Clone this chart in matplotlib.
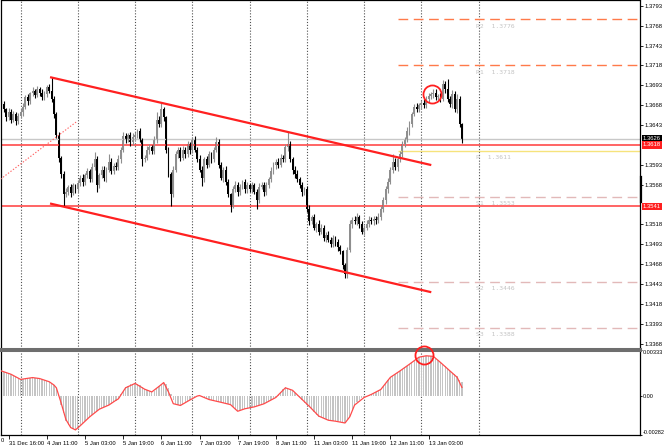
import matplotlib
matplotlib.use('Agg')
import matplotlib.pyplot as plt
from matplotlib.transforms import blended_transform_factory
import numpy as np

plt.rcParams['font.family'] = ['Liberation Sans', 'DejaVu Sans']

# hourly bars, bar 8 = 4 Jan 00:00, last bar = 13 Jan ~17:00
first_open = 1.3672
close = [
    1.3669, 1.3663, 1.3653, 1.3660, 1.3650, 1.3657, 1.3648, 1.3655, 1.3659, 1.3666, 1.3678, 1.3673,
    1.3683, 1.3686, 1.3681, 1.3688, 1.3684, 1.3678, 1.3682, 1.3691, 1.3686, 1.3676, 1.3657, 1.3631,
    1.3602, 1.3581, 1.3556, 1.3559, 1.3565, 1.3558, 1.3567, 1.3562, 1.3570, 1.3577, 1.3571, 1.3580,
    1.3585, 1.3575, 1.3590, 1.3600, 1.3568, 1.3580, 1.3587, 1.3577, 1.3587, 1.3597, 1.3585, 1.3592,
    1.3590, 1.3600, 1.3612, 1.3629, 1.3625, 1.3630, 1.3622, 1.3628, 1.3631, 1.3635, 1.3625, 1.3600,
    1.3602, 1.3612, 1.3615, 1.3610, 1.3625, 1.3650, 1.3644, 1.3663, 1.3653, 1.3612, 1.3581, 1.3556,
    1.3587, 1.3606, 1.3612, 1.3602, 1.3612, 1.3606, 1.3619, 1.3612, 1.3625, 1.3612, 1.3600, 1.3587,
    1.3577, 1.3600, 1.3593, 1.3606, 1.3600, 1.3612, 1.3622, 1.3593, 1.3577, 1.3587, 1.3572, 1.3556,
    1.3543, 1.3562, 1.3568, 1.3559, 1.3565, 1.3571, 1.3562, 1.3567, 1.3562, 1.3567, 1.3559, 1.3549,
    1.3565, 1.3568, 1.3559, 1.3567, 1.3575, 1.3585, 1.3593, 1.3597, 1.3593, 1.3602, 1.3600, 1.3615,
    1.3619, 1.3600, 1.3587, 1.3581, 1.3575, 1.3568, 1.3559, 1.3562, 1.3537, 1.3522, 1.3527, 1.3514,
    1.3518, 1.3509, 1.3514, 1.3501, 1.3505, 1.3499, 1.3493, 1.3501, 1.3496, 1.3489, 1.3484, 1.3467,
    1.3455, 1.3486, 1.3518, 1.3524, 1.3522, 1.3527, 1.3518, 1.3509, 1.3514, 1.3519, 1.3524, 1.3522,
    1.3525, 1.3523, 1.3527, 1.3537, 1.3549, 1.3562, 1.3572, 1.3587, 1.3597, 1.3590, 1.3600, 1.3606,
    1.3619, 1.3625, 1.3635, 1.3644, 1.3657, 1.3666, 1.3663, 1.3668, 1.3671, 1.3668, 1.3676, 1.3679,
    1.3682, 1.3684, 1.3678, 1.3679, 1.3676, 1.3695, 1.3688, 1.3676, 1.3669, 1.3682, 1.3663, 1.3676,
    1.3644, 1.3626,
]
# wicks beyond the body, in pips
wick_up = [
    3, 4, 2, 5, 3, 4, 2, 3, 4, 5, 3, 4, 2, 5, 3, 4, 3, 5, 4, 3, 4, 17, 3, 2,
    3, 2, 4, 5, 3, 4, 3, 2, 4, 3, 5, 3, 4, 3, 5, 9, 4, 3, 5, 4, 3, 9, 4, 3,
    4, 5, 3, 5, 4, 3, 4, 5, 3, 3, 4, 2, 3, 5, 4, 3, 4, 10, 4, 8, 3, 2, 4, 3,
    5, 4, 3, 4, 5, 3, 4, 3, 3, 4, 3, 5, 4, 3, 4, 5, 3, 4, 6, 3, 4, 3, 5, 3,
    2, 4, 5, 3, 4, 3, 4, 5, 3, 4, 3, 4, 5, 3, 4, 4, 3, 5, 4, 3, 4, 5, 3, 4,
    15, 4, 3, 4, 5, 3, 4, 3, 4, 5, 3, 4, 3, 5, 4, 3, 4, 5, 3, 4, 3, 4, 3, 2,
    3, 4, 5, 3, 4, 5, 3, 4, 3, 4, 5, 3, 4, 3, 5, 4, 3, 4, 5, 3, 9, 4, 3, 5,
    4, 3, 5, 4, 3, 4, 5, 3, 4, 5, 3, 4, 3, 5, 4, 3, 4, 5, 4, 13, 3, 5, 4, 6,
    3, 2,
]
wick_dn = [
    4, 3, 5, 3, 4, 3, 5, 4, 3, 4, 3, 5, 4, 3, 4, 3, 5, 4, 3, 4, 3, 4, 5, 4,
    5, 4, 15, 3, 4, 5, 3, 4, 3, 4, 5, 3, 4, 3, 4, 3, 9, 4, 3, 4, 5, 3, 4, 3,
    3, 4, 5, 3, 4, 3, 5, 4, 3, 4, 3, 9, 4, 3, 5, 4, 3, 4, 3, 4, 5, 4, 3, 15,
    4, 3, 5, 4, 3, 4, 3, 5, 4, 3, 4, 3, 11, 5, 4, 3, 5, 4, 3, 4, 3, 5, 4, 3,
    10, 4, 3, 5, 4, 3, 4, 5, 3, 4, 3, 12, 4, 3, 5, 4, 3, 4, 3, 5, 4, 3, 4, 3,
    4, 3, 5, 4, 3, 4, 5, 4, 3, 5, 4, 3, 5, 4, 3, 4, 5, 3, 4, 3, 5, 4, 3, 5,
    4, 5, 3, 4, 3, 5, 4, 3, 4, 3, 4, 3, 5, 4, 3, 4, 3, 5, 4, 3, 4, 3, 5, 4,
    3, 4, 3, 5, 4, 3, 4, 3, 5, 4, 3, 4, 3, 5, 4, 3, 4, 3, 5, 4, 3, 4, 3, 5,
    4, 5,
]

# MACD main (histogram), units of 1e-5
macd_main = [
    180, 176, 170, 163, 157, 148, 140, 131, 121, 124, 128, 131, 133, 134, 133, 130, 127, 124, 118, 112, 105, 95, 78, 50,
    5, -62, -125, -178, -210, -232, -242, -246, -230, -210, -195, -182, -165, -150, -138, -124, -110, -96, -88, -80, -72, -65, -58, -45,
    -32, -18, 12, 40, 63, 75, 85, 90, 92, 88, 78, 66, 52, 42, 35, 30, 38, 56, 72, 86, 96, 90, 55, 18,
    -30, -58, -64, -66, -58, -48, -38, -28, -18, -8, 0, 2, -4, -12, -18, -22, -27, -32, -37, -42, -46, -50, -55, -58,
    -62, -80, -100, -110, -104, -98, -92, -88, -85, -82, -78, -74, -68, -62, -57, -50, -40, -30, -18, -6, 12, 30, 48, 63,
    58, 48, 40, 25, 8, -8, -30, -50, -68, -80, -95, -115, -135, -148, -155, -162, -168, -173, -176, -179, -181, -183, -185, -189,
    -193, -175, -150, -110, -70, -45, -28, -14, -6, 2, 9, 15, 24, 32, 42, 52, 70, 90, 115, 135, 148, 160, 172, 182,
    195, 208, 220, 230, 245, 262, 275, 285, 290, 292, 292, 291, 289, 285, 275, 260, 242, 228, 215, 200, 182, 170, 158, 142,
    120, 100,
]
# signal line vertices (bar, value 1e-5)
signal_bars = [0, 4, 8, 13, 16, 20, 22, 23, 25, 27, 29, 31, 33, 37, 41, 45, 48, 49, 52, 56, 60, 63, 66, 68,
               70, 72, 75, 79, 82, 83, 87, 92, 96, 99, 102, 106, 110, 115, 119, 122, 125, 129, 133, 137,
               140, 144, 146, 148, 152, 155, 159, 163, 167, 171, 175, 178, 181, 184, 188, 191, 193]
signal_vals = [182, 158, 121, 134, 127, 104, 80, 60, -50, -170, -228, -245, -215, -150, -95, -65, -30, -20, 60, 92, 50, 30, 70, 98,
               30, -55, -68, -28, 0, 4, -25, -45, -62, -110, -92, -78, -56, -10, 60, 42, -8, -74, -145, -175,
               -182, -195, -150, -65, -10, 12, 48, 136, 182, 231, 282, 292, 288, 244, 182, 136, 63]

day_starts = [8, 32, 56, 80, 104, 128, 152, 176, 200]
time_ticks = [3, 19, 35, 51, 67, 83, 99, 115, 131, 147, 163, 179]
time_labels = ['31 Dec 16:00', '4 Jan 11:00', '5 Jan 03:00', '5 Jan 19:00', '6 Jan 11:00',
               '7 Jan 03:00', '7 Jan 19:00', '8 Jan 11:00', '11 Jan 03:00', '11 Jan 19:00', '12 Jan 11:00',
               '13 Jan 03:00']
# only the last digit of the previous date label shows at the left edge
prev_label_tail = '0'

price_ticks = [1.3793, 1.3768, 1.3743, 1.3718, 1.3693, 1.3668, 1.3643, 1.3593, 1.3568,
               1.3518, 1.3493, 1.3468, 1.3443, 1.3418, 1.3393, 1.3368]
bid = 1.3626
red_levels = [1.3618, 1.3541]

pivot_names = ['R2', 'R1', 'P', 'S1', 'S2', 'S3']
pivot_vals = [1.3776, 1.3718, 1.3611, 1.3553, 1.3446, 1.3388]
pivot_start = 166
pivot_label_bar = 199

# trend lines: (bar, price) end points
channel_top = ([20.8, 179.7], [1.3703, 1.3593])
channel_bottom = ([20.8, 179.7], [1.3544, 1.3433])
old_line = ([-0.4, 31.8], [1.3575, 1.3648])

top_mark = (180.5, 1.3682)
macd_mark = (177.2, 0.00297)

W, H = 665, 448
PLOT_R = 640


def draw_candles(ax, x, o, h, l, c):
    up = c >= o
    for mask, col in ((up, '#8e8e8e'), (~up, '#000000')):
        ax.vlines(x[mask], l[mask], h[mask], color=col, lw=0.8)
        body = np.maximum(np.abs(c - o)[mask], 0.00004)
        ax.bar(x[mask], body, bottom=np.minimum(o, c)[mask], width=0.78, color=col, lw=0)


def price_box(ax, y, text, fc):
    tr = blended_transform_factory(ax.transAxes, ax.transData)
    ax.text(1.004, y, text, transform=tr, ha='left', va='center', fontsize=4.2, color='white',
            bbox=dict(boxstyle='square,pad=0.18', fc=fc, ec='none'), clip_on=False)


def main():
    c = np.array(close)
    o = np.array([first_open] + close[:-1])
    h = np.maximum(o, c) + np.array(wick_up) * 0.0001
    l = np.minimum(o, c) - np.array(wick_dn) * 0.0001
    x = np.arange(len(c))
    assert len(c) == len(wick_up) == len(wick_dn) == len(macd_main)

    fig = plt.figure(figsize=(W / 100, H / 100), dpi=100)
    ax = fig.add_axes([0.5 / W, 99 / H, (PLOT_R - 0.5) / W, 348.5 / H])
    ax2 = fig.add_axes([0.5 / W, 13 / H, (PLOT_R - 0.5) / W, 85 / H])

    xlim = (-1.0 / 2.3875, (PLOT_R - 1) / 2.3875)
    for a in (ax, ax2):
        a.set_xlim(*xlim)
        for d in day_starts:
            a.axvline(d, color='#505050', lw=0.8, ls=(0, (1, 1.6)), zorder=1)
        for s in a.spines.values():
            s.set_color('black')
            s.set_linewidth(0.9)

    ax.set_ylim(1.33612, 1.37998)
    ax.spines['bottom'].set_color('#6e6e6e')
    ax.spines['bottom'].set_linewidth(2.2)
    ax2.spines['top'].set_color('#6e6e6e')
    ax2.spines['top'].set_linewidth(2.2)

    # levels
    ax.axhline(bid, color='#c8c8c8', lw=1.0, zorder=2)
    for lv in red_levels:
        ax.axhline(lv, color='#ff3b3b', lw=1.1, zorder=2)
    xmax = xlim[1]
    for name, v in zip(pivot_names, pivot_vals):
        if name.startswith('R'):
            ax.hlines(v, pivot_start, xmax, color='#ff7a4a', lw=1.0, ls=(0, (7, 4)), zorder=2)
        elif name == 'P':
            ax.hlines(v, pivot_start, xmax, color='#f6e37c', lw=1.0, zorder=2)
        else:
            ax.hlines(v, pivot_start, xmax, color='#e2b9b9', lw=1.0, ls=(0, (7, 4)), zorder=2)
        ax.annotate(f'{name}  {v:.4f}', (pivot_label_bar, v), xytext=(0, -5), textcoords='offset points',
                    ha='left', va='center', fontsize=4.6, color='#c4c4c4', family='DejaVu Sans Mono')

    draw_candles(ax, x, o, h, l, c)

    ax.plot(*channel_top, color='#ff2020', lw=1.6, zorder=4)
    ax.plot(*channel_bottom, color='#ff2020', lw=1.6, zorder=4)
    ax.plot(*old_line, color='#ff6060', lw=0.8, ls=(0, (1.2, 1.6)), zorder=4)
    ax.plot(*top_mark, 'o', ms=13, mfc='none', mec='#ff2020', mew=1.3, zorder=5)

    # price axis
    ax.yaxis.tick_right()
    ax.set_yticks(price_ticks)
    ax.set_yticklabels([f'{p:.4f}' for p in price_ticks])
    ax.tick_params(axis='y', length=2, width=0.6, pad=1.2, labelsize=4.2, colors='black')
    ax.set_xticks([])
    price_box(ax, bid, f'{bid:.4f}', 'black')
    for lv in red_levels:
        price_box(ax, lv, f'{lv:.4f}', '#ff2020')
    tr = blended_transform_factory(ax.transAxes, ax.transData)
    ax.plot([1.0015, 1.0015], [1.3578, 1.3546], color='black', lw=1.6, transform=tr, clip_on=False)

    # MACD
    m = np.array(macd_main) * 1e-5
    ax2.bar(x, m, width=0.55, color='#c4c4c4', lw=0, zorder=2)
    ax2.plot(signal_bars, np.array(signal_vals) * 1e-5, color='#ff4a4a', lw=0.9, zorder=3)
    ax2.plot(*macd_mark, 'o', ms=13, mfc='none', mec='#ff2020', mew=1.3, zorder=5, clip_on=False)
    ax2.set_ylim(-0.00281, 0.00334)
    ax2.yaxis.tick_right()
    ax2.set_yticks([0.00333, 0.0, -0.00282])
    ax2.set_yticklabels(['0.00333', '0.00', '-0.00282'])
    labs = ax2.get_yticklabels()
    labs[0].set_va('top')
    labs[2].set_va('bottom')
    ax2.tick_params(axis='y', length=1.5, width=0.6, pad=0.6, labelsize=4.0)

    ax2.set_xticks(time_ticks)
    ax2.set_xticklabels(time_labels, ha='left')
    ax2.tick_params(axis='x', length=3, width=0.6, pad=1.0, labelsize=4.2, direction='out')
    fig.text(0.5 / W, 7.5 / H, prev_label_tail, ha='left', va='center', fontsize=4.2)

    fig.savefig('out.png', dpi=100)
    plt.close(fig)


if __name__ == '__main__':
    main()
